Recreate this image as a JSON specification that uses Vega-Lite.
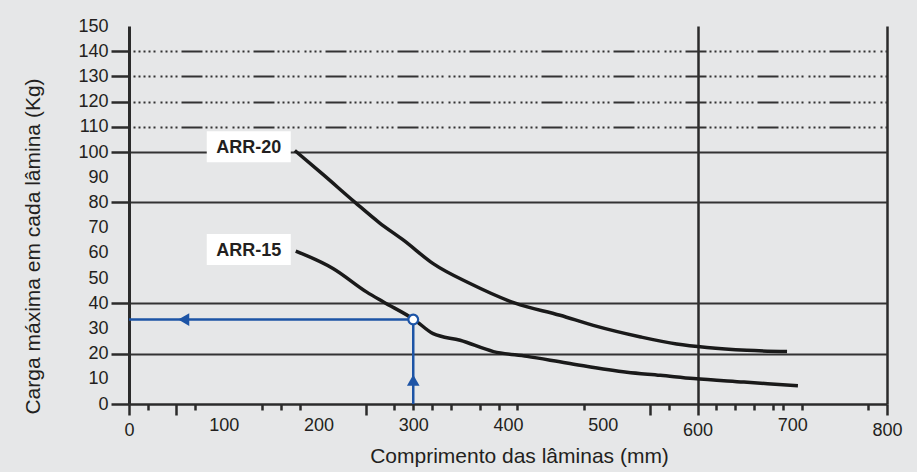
{
  "$schema": "https://vega.github.io/schema/vega-lite/v6.json",
  "width": 758,
  "height": 378,
  "autosize": {"type": "none"},
  "padding": {"left": 129, "top": 26, "right": 30, "bottom": 68},
  "background": "#e6e7e8",
  "config": {"font": "Liberation Sans", "view": {"stroke": null}},
  "encoding": {
    "x": {
      "field": "x",
      "type": "quantitative",
      "scale": {"domain": [0, 800], "nice": false},
      "axis": {
        "title": "Comprimento das lâminas (mm)",
        "values": [0, 20, 50, 70, 100, 140, 160, 180, 200, 250, 280, 300, 320, 340, 370, 390, 400, 410, 480, 500, 550, 570, 600, 620, 640, 660, 680, 690, 700, 710, 780, 800],
        "labelExpr": "datum.value % 100 === 0 ? datum.label : ''",
        "labelFontSize": 18,
        "labelColor": "#231f20",
        "labelPadding": 6,
        "labelOverlap": false,
        "labelFlush": false,
        "labelBound": false,
        "tickColor": "#2b2b2b",
        "tickWidth": 2.5,
        "tickSize": {"condition": {"test": "indexof([0, 50, 250, 550, 600, 800], datum.value) >= 0", "value": 11}, "value": 6},
        "tickOpacity": {"condition": {"test": "indexof([100, 200, 400, 500, 700], datum.value) >= 0", "value": 0}, "value": 1},
        "domainColor": "#2b2b2b",
        "domainWidth": 2.5,
        "grid": true,
        "gridColor": "#2b2b2b",
        "gridWidth": 2.5,
        "gridOpacity": {"condition": {"test": "datum.value === 600 || datum.value === 800", "value": 1}, "value": 0},
        "titleFontSize": 21,
        "titleFontWeight": "normal",
        "titleColor": "#231f20",
        "titleX": 390,
        "titleY": 52,
        "titleBaseline": "middle",
        "titleAlign": "center"
      }
    },
    "y": {
      "field": "y",
      "type": "quantitative",
      "scale": {"domain": [0, 150], "nice": false},
      "axis": {
        "title": "Carga máxima em cada lâmina (Kg)",
        "values": [0, 10, 20, 30, 40, 50, 60, 70, 80, 90, 100, 110, 120, 130, 140, 150],
        "labelFontSize": 18,
        "labelColor": "#231f20",
        "labelPadding": 3,
        "labelOverlap": false,
        "labelFlush": false,
        "tickColor": "#2b2b2b",
        "tickWidth": 2.5,
        "tickSize": 18,
        "tickOpacity": {"condition": {"test": "indexof([0, 20, 40, 80, 100, 110, 120, 130, 140], datum.value) >= 0", "value": 1}, "value": 0},
        "domainColor": "#2b2b2b",
        "domainWidth": 3,
        "grid": true,
        "gridColor": "#333333",
        "gridWidth": 2,
        "gridOpacity": {"condition": {"test": "indexof([20, 40, 80, 100, 110, 120, 130, 140], datum.value) >= 0", "value": 1}, "value": 0},
        "gridDash": {"condition": {"test": "datum.value > 105", "value": [21, 3, 2, 3, 2, 3, 2, 3, 2, 3, 2, 5, 2, 3, 2, 3, 2, 3, 2, 4]}, "value": []},
        "gridDashOffset": 20,
        "titleFontSize": 21,
        "titleFontWeight": "normal",
        "titleColor": "#231f20",
        "titleX": -96,
        "titleY": 220,
        "titleBaseline": "middle",
        "titleAlign": "center"
      }
    }
  },
  "layer": [
    {
      "data": {
        "values": [
          {"series": "ARR-20", "x": 175, "y": 100.6},
          {"series": "ARR-20", "x": 205, "y": 91},
          {"series": "ARR-20", "x": 238.6, "y": 80},
          {"series": "ARR-20", "x": 264, "y": 72},
          {"series": "ARR-20", "x": 289.7, "y": 65},
          {"series": "ARR-20", "x": 321, "y": 55.7},
          {"series": "ARR-20", "x": 360, "y": 47.8},
          {"series": "ARR-20", "x": 407.6, "y": 40},
          {"series": "ARR-20", "x": 455, "y": 35.2},
          {"series": "ARR-20", "x": 490, "y": 31.2},
          {"series": "ARR-20", "x": 540, "y": 26.6},
          {"series": "ARR-20", "x": 578, "y": 23.8},
          {"series": "ARR-20", "x": 610, "y": 22.4},
          {"series": "ARR-20", "x": 652, "y": 21.3},
          {"series": "ARR-20", "x": 694.5, "y": 20.8},
          {"series": "ARR-15", "x": 176, "y": 60.7},
          {"series": "ARR-15", "x": 215.7, "y": 53.7},
          {"series": "ARR-15", "x": 251, "y": 44.4},
          {"series": "ARR-15", "x": 268.6, "y": 40.5},
          {"series": "ARR-15", "x": 301, "y": 33.5},
          {"series": "ARR-15", "x": 321, "y": 27.9},
          {"series": "ARR-15", "x": 349.5, "y": 25.3},
          {"series": "ARR-15", "x": 384.7, "y": 20.8},
          {"series": "ARR-15", "x": 420, "y": 18.9},
          {"series": "ARR-15", "x": 462, "y": 16.3},
          {"series": "ARR-15", "x": 525.5, "y": 12.6},
          {"series": "ARR-15", "x": 560.7, "y": 11.4},
          {"series": "ARR-15", "x": 596, "y": 10.1},
          {"series": "ARR-15", "x": 649, "y": 8.7},
          {"series": "ARR-15", "x": 706, "y": 7.2}
        ]
      },
      "mark": {"type": "line", "color": "#1a1a1a", "strokeWidth": 3.5, "interpolate": "monotone"},
      "encoding": {"detail": {"field": "series"}}
    },
    {
      "data": {
        "values": [
          {"label": "ARR-20", "x": 126.4, "y": 102.1},
          {"label": "ARR-15", "x": 126.4, "y": 61.3}
        ]
      },
      "layer": [
        {
          "mark": {"type": "point", "shape": "M-2.71,-1H2.71V1H-2.71Z", "size": 961, "filled": true, "fill": "#ffffff", "opacity": 1, "strokeWidth": 0}
        },
        {
          "mark": {"type": "text", "fontSize": 18, "fontWeight": "bold", "color": "#231f20", "align": "center", "baseline": "middle", "dy": 1},
          "encoding": {"text": {"field": "label"}}
        }
      ]
    },
    {
      "data": {"values": [{"x": 300, "y": 33.5}]},
      "layer": [
        {
          "mark": {"type": "rule", "color": "#1d54a6", "strokeWidth": 2.5},
          "encoding": {"y": {"datum": 0}, "y2": {"field": "y"}}
        },
        {
          "mark": {"type": "rule", "color": "#1d54a6", "strokeWidth": 2.5},
          "encoding": {"x": {"datum": 0}, "x2": {"field": "x"}}
        }
      ]
    },
    {
      "data": {
        "values": [
          {"x": 300, "y": 9.4, "dir": "triangle-up"},
          {"x": 57.8, "y": 33.5, "dir": "triangle-left"}
        ]
      },
      "mark": {"type": "point", "filled": true, "color": "#1d54a6", "opacity": 1, "size": 160},
      "encoding": {"shape": {"field": "dir", "type": "nominal", "scale": null}}
    },
    {
      "data": {"values": [{"x": 300, "y": 33.5}]},
      "mark": {"type": "point", "filled": true, "fill": "#ffffff", "stroke": "#1d54a6", "strokeWidth": 2.2, "opacity": 1, "size": 95}
    }
  ]
}
